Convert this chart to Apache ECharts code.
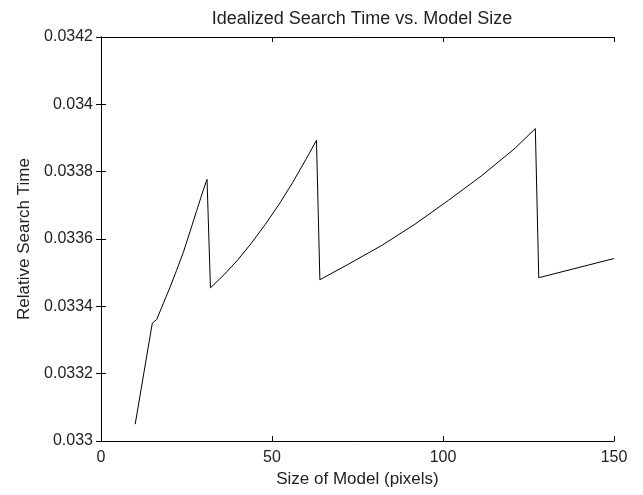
<!DOCTYPE html>
<html>
<head>
<meta charset="utf-8">
<script src="https://cdn.jsdelivr.net/npm/echarts@6/dist/echarts.min.js"></script>
<style>
    html, body { margin: 0; padding: 0; background: #fff; }
    #divChart { width: 643px; height: 495px; }
</style>
</head>
<body>
<div id="divChart"></div>
<script>
var modelSize = [10, 15, 16.3, 18.2, 20.2, 22.1, 24.1, 26, 28, 29.9, 31,
    32, 36, 40, 44, 48, 52, 56, 60, 63,
    64, 72.3, 82.1, 91.8, 101.6, 111.3, 121.1, 127,
    128, 150];
var searchTime = [0.03305, 0.03335, 0.033361, 0.033408, 0.033457, 0.033507, 0.033561, 0.033621, 0.033685, 0.033745, 0.033777,
    0.033455, 0.033494, 0.033538, 0.033588, 0.033643, 0.033702, 0.033767, 0.033838, 0.033893,
    0.033479, 0.033525, 0.033581, 0.033644, 0.033715, 0.033788, 0.03387, 0.033928,
    0.033485, 0.033542];
var yTicks = ['0.033', '0.0332', '0.0334', '0.0336', '0.0338', '0.034', '0.0342'];

var myChart;

function buildData() {
    var result = [];
    for (var i = 0; i < modelSize.length; i++) {
        result.push([modelSize[i], searchTime[i]]);
    }
    return result;
}

function yLabel(v) {
    var idx = Math.round((v - 0.033) / 0.0002);
    return yTicks[idx] || '';
}

function initChart() {
    var font = 'Liberation Sans, Arial, sans-serif';
    var axisLine = { show: true, lineStyle: { color: '#000', width: 1 } };
    var axisTick = { show: true, inside: true, length: 5, lineStyle: { color: '#000' } };
    var option = {
        animation: false,
        title: {
            text: 'Idealized Search Time vs. Model Size',
            left: 357,
            textAlign: 'center',
            top: 5,
            textStyle: { fontSize: 18, fontWeight: 'normal', color: '#222', fontFamily: font }
        },
        grid: { left: 101, right: 29, top: 37, bottom: 54 },
        xAxis: [{
            type: 'value',
            min: 0,
            max: 150,
            interval: 50,
            name: 'Size of Model (pixels)',
            nameLocation: 'middle',
            nameGap: 29,
            nameTextStyle: { fontSize: 17, color: '#222', fontFamily: font },
            axisLine: axisLine,
            axisTick: axisTick,
            splitLine: { show: false },
            axisLabel: { fontSize: 16, color: '#222', margin: 9, fontFamily: font }
        }, {
            type: 'value',
            position: 'top',
            min: 0,
            max: 150,
            interval: 50,
            axisLine: axisLine,
            axisTick: axisTick,
            splitLine: { show: false },
            axisLabel: { show: false }
        }],
        yAxis: [{
            type: 'value',
            min: 0.033,
            max: 0.0342,
            interval: 0.0002,
            name: 'Relative Search Time',
            nameLocation: 'middle',
            nameGap: 67,
            nameTextStyle: { fontSize: 17, color: '#222', fontFamily: font },
            axisLine: axisLine,
            axisTick: axisTick,
            splitLine: { show: false },
            axisLabel: { fontSize: 16, color: '#222', margin: 8, fontFamily: font, formatter: yLabel }
        }, {
            type: 'value',
            position: 'right',
            min: 0.033,
            max: 0.0342,
            interval: 0.0002,
            axisLine: axisLine,
            axisTick: axisTick,
            splitLine: { show: false },
            axisLabel: { show: false }
        }],
        series: [{
            type: 'line',
            data: buildData(),
            showSymbol: false,
            lineStyle: { color: '#000', width: 1 }
        }]
    };
    myChart.setOption(option);
}

myChart = echarts.init(document.getElementById('divChart'));
initChart();
</script>
</body>
</html>
